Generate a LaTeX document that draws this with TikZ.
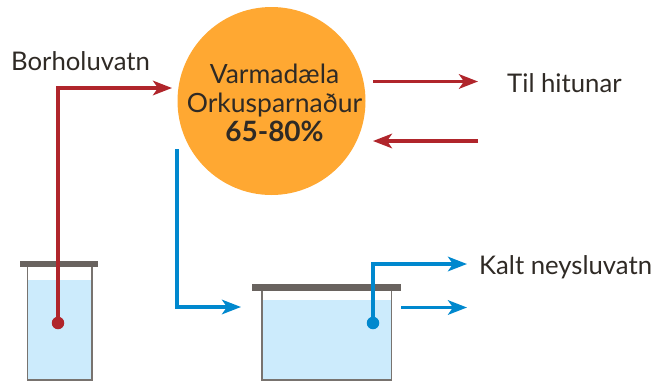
\documentclass[tikz,border=0pt]{standalone}
\usepackage{fontspec}
\setmainfont{Lato}
\usetikzlibrary{arrows.meta}
\definecolor{pumporange}{HTML}{FFA832}
\definecolor{hotred}{HTML}{B0252B}
\definecolor{coldblue}{HTML}{0088CE}
\definecolor{waterfill}{HTML}{CCEBFC}
\definecolor{lidgrey}{HTML}{69635F}
\definecolor{inkbrown}{HTML}{2F2A25}
\tikzset{
  flowred/.style={draw=hotred,line width=3.3pt,-{Stealth[length=19pt,width=14.5pt,inset=5pt]}},
  flowblue/.style={draw=coldblue,line width=3.3pt,-{Stealth[length=19pt,width=14.5pt,inset=5pt]}},
  label/.style={text=inkbrown,font=\fontsize{25.7}{29}\selectfont,inner sep=0pt},
  water/.style={fill=waterfill,draw=none},
  wall/.style={draw=lidgrey!90,line width=1.6pt},
  lid/.style={fill=lidgrey,draw=none},
  dotred/.style={circle,fill=hotred,inner sep=0pt,minimum size=12.5pt},
  dotblue/.style={circle,fill=coldblue,inner sep=0pt,minimum size=12.5pt},
}
\begin{document}
\begin{tikzpicture}[x=1pt,y=-1pt]
\useasboundingbox (0,0) rectangle (653,381);
% left tank
\fill[water] (27.5,280) rectangle (92,379.5);
\draw[wall] (27.5,266) -- (27.5,380) -- (92,380) -- (92,266);
\fill[lid] (20,261) rectangle (98,267);
% right tank
\fill[water] (262,300) rectangle (391.5,379.5);
\draw[wall] (262,289) -- (262,380) -- (391.5,380) -- (391.5,289);
\fill[lid] (252,284) rectangle (401,290.5);
% pump
\node[circle,fill=pumporange,minimum size=188pt,inner sep=0pt] (pump) at (271.5,101) {};
\node[label,align=center,font=\fontsize{26.5}{29}\selectfont] (pumptext) at (274.5,102.5)
  {Varmadæla\\Orkusparnaður\\{\fontsize{28}{29}\selectfont\bfseries 65-80\%}};
% labels
\node[label,anchor=west] (bor) at (11,61) {Borholuvatn};
\node[label,anchor=west] (hit) at (507,83) {Til hitunar};
\node[label,anchor=west] (kalt) at (479,267) {Kalt neysluvatn};
% free ends
\node[dotred] (rdot) at (58,323) {};
\node[dotblue] (bdot) at (373,323) {};
\coordinate (pumpin) at (172,88);
\coordinate (redout0) at (373,81.5);
\coordinate (redout1) at (478,81.5);
\coordinate (redin0) at (478,141);
\coordinate (redin1) at (373,141);
\coordinate (blue0) at (177,149);
\coordinate (blue1) at (241,307);
\coordinate (kalt1) at (467,264);
\coordinate (over0) at (401,307.5);
\coordinate (over1) at (467,307.5);
% connectors
\draw[flowred] (rdot.center) |- (pumpin);
\draw[flowred] (redout0) -- (redout1);
\draw[flowred] (redin0) -- (redin1);
\draw[flowblue] (blue0) |- (blue1);
\draw[flowblue] (bdot.center) |- (kalt1);
\draw[flowblue] (over0) -- (over1);
\end{tikzpicture}
\end{document}
